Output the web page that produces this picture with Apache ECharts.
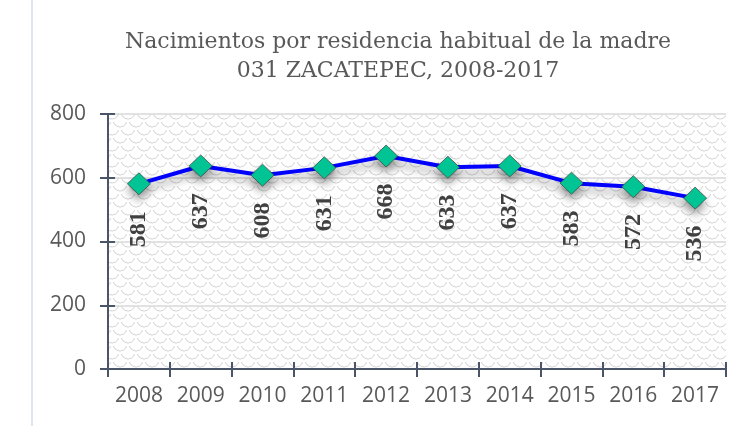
<!DOCTYPE html>
<html lang="es">
<head>
    <meta charset="UTF-8">
    <title>Nacimientos ZACATEPEC</title>
    <script src="https://cdn.jsdelivr.net/npm/echarts@6/dist/echarts.min.js"></script>
    <style type="text/css">
        html, body { margin: 0; padding: 0; background: #fff; }
        #chart { width: 737px; height: 426px; }
    </style>
</head>
<body>
<div id="chart"></div>
<script type="text/javascript">
    // datos
    var years = ['2008', '2009', '2010', '2011', '2012', '2013', '2014', '2015', '2016', '2017'];
    var births = [581, 637, 608, 631, 668, 633, 637, 583, 572, 536];
    var yTicks = [0, 200, 400, 600, 800];
    var titleLines = ['Nacimientos por residencia habitual de la madre', '031 ZACATEPEC, 2008-2017'];

    // fondo con escamas (como el relleno de Excel)
    function makePattern() {
        var c = document.createElement('canvas');
        c.width = 16; c.height = 16;
        var ctx = c.getContext('2d');
        ctx.fillStyle = '#ffffff';
        ctx.fillRect(0, 0, 16, 16);
        ctx.strokeStyle = '#d2d2d2';
        ctx.lineWidth = 1;
        var centers = [[0, 0], [16, 0], [8, 8], [0, 16], [16, 16]];
        for (var i = 0; i < centers.length; i++) {
            ctx.beginPath();
            ctx.arc(centers[i][0], centers[i][1], 7, 0.3, Math.PI - 0.3);
            ctx.stroke();
        }
        return c;
    }

    var axisColor = '#4a5568';
    var myChart = echarts.init(document.getElementById('chart'), null, {renderer: 'canvas'});

    var option = {
        animation: false,
        backgroundColor: '#ffffff',
        title: {
            text: titleLines.join('\n'),
            left: 393,
            top: 23,
            textAlign: 'center',
            textStyle: {
                fontFamily: 'DejaVu Serif',
                fontWeight: 'normal',
                fontSize: 22,
                lineHeight: 29,
                color: '#595959'
            }
        },
        graphic: [{
            type: 'line',
            shape: {x1: 32, y1: 0, x2: 32, y2: 426},
            style: {stroke: '#dfe5ee', lineWidth: 2},
            silent: true
        }],
        grid: {
            left: 108,
            top: 114,
            right: 11,
            bottom: 57,
            show: true,
            borderWidth: 0,
            backgroundColor: {image: makePattern(), repeat: 'repeat'}
        },
        xAxis: [{
            type: 'category',
            data: years,
            boundaryGap: true,
            axisLine: {lineStyle: {color: axisColor, width: 2}},
            axisTick: {show: true, interval: 0, length: 8, lineStyle: {color: axisColor, width: 2}},
            axisLabel: {
                interval: 0,
                margin: 17,
                fontFamily: 'Open Sans',
                fontSize: 21,
                color: '#595959'
            },
            splitLine: {show: false}
        }, {
            // marcas hacia dentro para que crucen el eje
            type: 'category',
            data: years,
            position: 'bottom',
            boundaryGap: true,
            axisLine: {show: false},
            axisTick: {show: true, interval: 0, inside: true, length: 7, lineStyle: {color: axisColor, width: 2}},
            axisLabel: {show: false, interval: 0},
            splitLine: {show: false}
        }],
        yAxis: [{
            type: 'value',
            min: yTicks[0],
            max: yTicks[yTicks.length - 1],
            interval: 200,
            axisLine: {show: true, lineStyle: {color: axisColor, width: 2}},
            axisTick: {show: true, length: 8, lineStyle: {color: axisColor, width: 2}},
            axisLabel: {
                margin: 22,
                fontFamily: 'Open Sans',
                fontSize: 21,
                color: '#595959'
            },
            splitLine: {show: true, lineStyle: {color: '#d9d9d9', width: 1.5}}
        }, {
            type: 'value',
            position: 'left',
            min: yTicks[0],
            max: yTicks[yTicks.length - 1],
            interval: 200,
            axisLine: {show: false},
            axisTick: {show: true, inside: true, length: 7, lineStyle: {color: axisColor, width: 2}},
            axisLabel: {show: false},
            splitLine: {show: false}
        }],
        series: [{
            type: 'line',
            name: 'Nacimientos',
            data: births,
            xAxisIndex: 0,
            yAxisIndex: 0,
            symbol: 'diamond',
            symbolSize: [23, 22],
            lineStyle: {
                color: '#0000ff',
                width: 4,
                shadowColor: 'rgba(0,0,0,0.35)',
                shadowBlur: 8,
                shadowOffsetY: 6
            },
            itemStyle: {
                color: '#00c896',
                borderColor: '#3f4f4a',
                borderWidth: 0.8,
                shadowColor: 'rgba(0,0,0,0.35)',
                shadowBlur: 8,
                shadowOffsetY: 6
            },
            label: {
                show: true,
                position: 'bottom',
                distance: 16,
                rotate: 90,
                align: 'right',
                verticalAlign: 'middle',
                fontFamily: 'Liberation Serif',
                fontWeight: 'bold',
                fontSize: 24,
                color: '#404040'
            },
            z: 5
        }]
    };
    myChart.setOption(option);
</script>
</body>
</html>
